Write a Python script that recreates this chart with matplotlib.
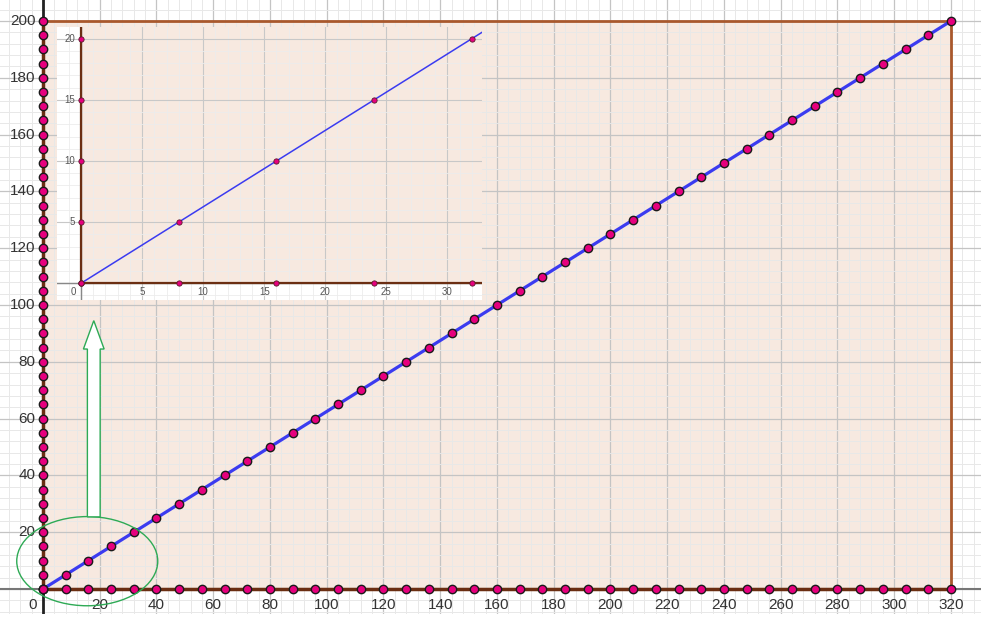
import matplotlib
matplotlib.use('Agg')
import matplotlib.pyplot as plt
from matplotlib.patches import Ellipse, FancyArrow, Rectangle

# points along the segment (x every 8, y every 5)
x_pts = [0, 8, 16, 24, 32, 40, 48, 56, 64, 72, 80, 88, 96, 104, 112, 120, 128, 136, 144,
         152, 160, 168, 176, 184, 192, 200, 208, 216, 224, 232, 240, 248, 256, 264, 272,
         280, 288, 296, 304, 312, 320]
y_pts = [0, 5, 10, 15, 20, 25, 30, 35, 40, 45, 50, 55, 60, 65, 70, 75, 80, 85, 90, 95,
         100, 105, 110, 115, 120, 125, 130, 135, 140, 145, 150, 155, 160, 165, 170, 175,
         180, 185, 190, 195, 200]
x_labels = [20, 40, 60, 80, 100, 120, 140, 160, 180, 200, 220, 240, 260, 280, 300, 320]
y_labels = [20, 40, 60, 80, 100, 120, 140, 160, 180, 200]

# zoomed inset
zx_pts = [0, 8, 16, 24, 32]
zy_pts = [0, 5, 10, 15, 20]
zx_labels = [5, 10, 15, 20, 25, 30]
zy_labels = [5, 10, 15, 20]

pink = '#e6007e'
blue = '#3b3bf0'
brown_dark = '#6b2e12'
brown = '#a9582c'
fill = '#f7e9e0'
green = '#2eaa55'

plt.rcParams['font.family'] = ['Liberation Sans', 'DejaVu Sans']

fig = plt.figure(figsize=(9.81, 6.29), dpi=100)
ax = fig.add_axes([0, 15 / 629, 1, 614 / 629])
for s in ax.spines.values():
    s.set_visible(False)
ax.set_xticks(range(-20, 341, 20))
ax.set_yticks(range(-20, 221, 20))
ax.set_xticks(range(-20, 341, 4), minor=True)
ax.set_yticks(range(-20, 221, 4), minor=True)
ax.set_xlim(-15.15, 330.6)
ax.set_ylim(-8.8, 207.4)
ax.tick_params(which='both', length=0, labelbottom=False, labelleft=False)
ax.set_axisbelow(True)
ax.grid(which='major', color='#c4c4c4', lw=0.9)
ax.grid(which='minor', color='#e8e8e8', lw=0.7)

ax.add_patch(Rectangle((0, 0), 320, 200, fc=fill, ec='none', zorder=0.2))
ax.axhline(0, color='#777777', lw=1.5, zorder=2)
ax.axvline(0, color='#222222', lw=2, zorder=2)
ax.plot([0, 320, 320], [200, 200, 0], color=brown, lw=2, zorder=2.5)
ax.plot([0, 0, 320], [200, 0, 0], color=brown_dark, lw=2.5, zorder=2.5)

ax.plot([x_pts[0], x_pts[-1]], [y_pts[0], y_pts[-1]], color=blue, lw=2.3, zorder=3)
mk = dict(ls='none', marker='o', ms=6, mfc=pink, mec='#1a1a1a', mew=1, zorder=4)
ax.plot(x_pts, [0] * len(x_pts), **mk)
ax.plot([0] * len(y_pts), y_pts, **mk)
ax.plot(x_pts, y_pts, **mk)

for v in x_labels:
    ax.text(v, -5.6, str(v), ha='center', va='center', fontsize=11, color='#333333')
for v in y_labels:
    ax.text(-2.6, v, str(v), ha='right', va='center', fontsize=11, color='#333333')
ax.text(-3.5, -5.6, '0', ha='center', va='center', fontsize=11, color='#333333')

ax.add_patch(Ellipse((15.6, 9.8), 49.7, 31.4, fill=False, ec=green, lw=1, zorder=5))
ax.add_patch(FancyArrow(17.9, 25.4, 0, 69.1, width=4.5, head_width=7.3, head_length=10,
                        length_includes_head=True, fc='white', ec=green, lw=1, zorder=5))

# inset
ins = fig.add_axes([57 / 981, (629 - 300) / 629, 425 / 981, 273 / 629])
ins.set_facecolor('white')
for s in ins.spines.values():
    s.set_visible(False)
ins.set_xticks(range(0, 36, 5))
ins.set_yticks(range(0, 26, 5))
ins.set_xticks(range(-2, 34), minor=True)
ins.set_yticks(range(-2, 22), minor=True)
ins.set_xlim(-1.97, 32.84)
ins.set_ylim(-1.37, 20.96)
ins.tick_params(which='both', length=0, labelbottom=False, labelleft=False)
ins.set_axisbelow(True)
ins.grid(which='major', color='#c8c8c8', lw=0.8)
ins.grid(which='minor', color='#ececec', lw=0.6)
ins.add_patch(Rectangle((0, 0), 40, 30, fc=fill, ec='none', zorder=0.2))
ins.axhline(0, color='#888888', lw=1, zorder=2)
ins.axvline(0, color='#888888', lw=1, zorder=2)
ins.plot([0, 0], [0, 30], color=brown_dark, lw=1.6, zorder=2.5)
ins.plot([0, 40], [0, 0], color=brown_dark, lw=1.6, zorder=2.5)
ins.plot([0, 40], [0, 25], color=blue, lw=1.1, zorder=3)
mk2 = dict(ls='none', marker='o', ms=3.8, mfc=pink, mec='#5a1a2a', mew=0.6, zorder=4)
ins.plot(zx_pts, [0] * len(zx_pts), **mk2)
ins.plot([0] * len(zy_pts), zy_pts, **mk2)
ins.plot(zx_pts, zy_pts, **mk2)
for v in zx_labels:
    ins.text(v, -0.75, str(v), ha='center', va='center', fontsize=7, color='#555555')
for v in zy_labels:
    ins.text(-0.5, v, str(v), ha='right', va='center', fontsize=7, color='#555555')
ins.text(-0.6, -0.75, '0', ha='center', va='center', fontsize=7, color='#555555')

fig.savefig('out.png', dpi=100)
